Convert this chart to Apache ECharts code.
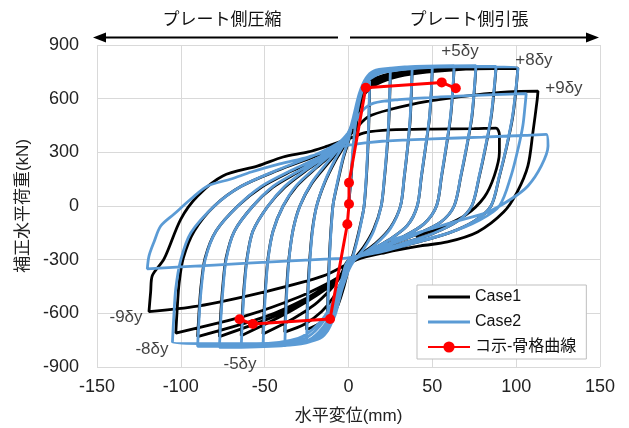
<!DOCTYPE html>
<html><head><meta charset="utf-8">
<script src="https://cdn.jsdelivr.net/npm/echarts@6/dist/echarts.min.js"></script>
<style>html,body{margin:0;padding:0;background:#fff}#c{width:629px;height:428px}</style>
</head><body><div id="c"></div>
<script>
// ---- axes ----
const xMin = -150, xMax = 150, xStep = 50;
const yMin = -900, yMax = 900, yStep = 300;

// ---- Case1 (black) hysteresis, read cycle by cycle ----
const c1_1 = [[0,0],[1.5,150],[3,330],[5.5,500],[8.5,610],[12.6,655],[12.3,520],[11.8,370],[11,210],[10,70],[9,-20],[6,-150],[3,-260],[0,-350],[-3,-460],[-7,-570],[-12.6,-645]];
const c1_2 = [[-12.3,-500],[-11.8,-360],[-11,-210],[-10,-70],[-9,20],[-6,150],[-3,270],[0,360],[3,470],[6.5,590],[10,665],[15,710],[20,728],[25,740],[24.6,610],[24,460],[23,320],[21.5,160],[19.5,0],[15,-130],[9,-230],[3,-300],[0,-350],[-3,-440],[-7,-540],[-12,-610],[-18,-660],[-25,-690]];
const c1_3 = [[-24.6,-560],[-24,-420],[-23,-280],[-21.5,-130],[-19,0],[-14,135],[-8,250],[-3,330],[0,390],[3,480],[6.5,600],[10.5,675],[16,712],[25,738],[38,755],[37.5,630],[36.8,480],[35.3,330],[33.3,165],[31,0],[25,-120],[16,-210],[6,-280],[0,-330],[-4,-420],[-9,-510],[-16,-590],[-26,-660],[-38,-705]];
const c1_4 = [[-37.5,-580],[-36.8,-440],[-35.5,-290],[-33,-130],[-29,0],[-22,125],[-13,230],[-5,320],[0,385],[3,470],[6.5,590],[10.5,670],[18,720],[32,748],[50,765],[49.4,640],[48.3,490],[46,330],[43.5,165],[41,0],[35,-110],[24,-190],[11,-260],[0,-320],[-5,-400],[-11,-470],[-20,-550],[-33,-630],[-51,-715]];
const c1_5 = [[-50.4,-590],[-49.5,-450],[-48,-290],[-45,-140],[-39,0],[-31,110],[-19,215],[-8,305],[-2,365],[2,450],[6,575],[10.5,665],[20,720],[40,755],[63,770],[62.2,640],[60.8,490],[58.3,330],[55.5,165],[52.5,0],[45,-100],[32,-175],[16,-245],[0,-320],[-5,-400],[-12,-455],[-25,-535],[-42,-625],[-64,-725]];
const c1_6 = [[-63.3,-600],[-62.3,-450],[-60.5,-290],[-57,-140],[-48,0],[-38,105],[-25,200],[-11,290],[-3,360],[2,445],[6,570],[11,660],[22,720],[50,760],[76,770],[75,640],[73.5,490],[70.5,330],[67,165],[63,0],[55,-90],[40,-160],[22,-225],[8,-275],[0,-315],[-5,-395],[-12,-450],[-25,-525],[-45,-620],[-77,-730]];
const c1_7 = [[-76.2,-600],[-75,-450],[-73,-290],[-68,-140],[-57,0],[-45,105],[-29,195],[-13,285],[-4,355],[2,440],[6,565],[11,655],[25,720],[60,762],[88,770],[86.8,640],[85,490],[81.8,330],[78,165],[73.5,0],[65,-85],[50,-155],[32,-210],[15,-260],[0,-310],[-5,-390],[-12,-440],[-25,-515],[-50,-620],[-90,-730]];
const c1_8 = [[-89.2,-600],[-88,-450],[-85.5,-290],[-79,-140],[-66,0],[-52,105],[-34,195],[-15,280],[-4,350],[2,435],[6,560],[11,650],[30,725],[70,765],[101,770],[99.8,640],[97.8,490],[94.3,330],[90,165],[85,0],[75,-85],[60,-150],[40,-205],[20,-255],[0,-305],[-5,-390],[-12,-430],[-30,-510],[-60,-610],[-103,-710]];
const c1_9 = [[-102.2,-580],[-101,-430],[-98.5,-290],[-92,-140],[-80,0],[-64,110],[-42,200],[-18,285],[-4,350],[5,440],[12,500],[25,540],[47,585],[75,620],[95,638],[113,642],[112.6,598],[110,413],[107,224],[100.6,78],[92.5,-34],[77,-145],[59,-201],[43,-223],[22,-260],[5,-300],[-15,-391],[-50,-480],[-90,-560],[-119,-590]];
const c1_10 = [[-118,-480],[-117,-389],[-110,-296],[-100,-73],[-90,56],[-75,168],[-54,224],[-39,274],[-24,302],[-12.5,335],[0,375],[10,410],[25,425],[50,430],[75,432],[88,435],[90,400],[90,300],[87,170],[81,50],[70,-50],[55,-120],[40,-170]];

// ---- Case2 (blue) hysteresis ----
const c2_1 = [[0,0],[1.5,170],[3,360],[5.5,540],[8.5,650],[12.6,700],[12.3,560],[11.8,400],[11,230],[10,80],[9,-20],[6,-160],[3,-270],[0,-360],[-4,-470],[-8,-610],[-12.6,-700]];
const c2_2 = [[-12.3,-560],[-11.8,-400],[-11,-230],[-10,-80],[-9,20],[-6,160],[-3,280],[0,370],[3,490],[6.5,620],[10,700],[14,745],[19,758],[25,765],[24.6,640],[24,480],[23,335],[21.5,170],[19.5,0],[15,-140],[9,-240],[3,-310],[0,-360],[-4,-460],[-8,-600],[-12,-690],[-17,-740],[-25,-760]];
const c2_3 = [[-24.6,-620],[-24,-460],[-23,-300],[-21.5,-140],[-19,0],[-14,140],[-8,260],[-3,340],[0,400],[3,500],[6.5,630],[10.5,715],[15,755],[25,770],[38,775],[37.5,650],[36.8,500],[35.3,335],[33.3,170],[31,0],[25,-125],[16,-215],[6,-285],[0,-335],[-4,-450],[-8,-590],[-13,-690],[-20,-750],[-38,-780]];
const c2_4 = [[-37.5,-640],[-36.8,-480],[-35.5,-300],[-33,-130],[-29,0],[-22,130],[-13,240],[-5,330],[0,400],[3,500],[6.5,630],[10.5,715],[16,755],[30,775],[50,780],[49.4,650],[48.3,500],[46,335],[43.5,170],[41,0],[35,-110],[24,-190],[11,-260],[0,-325],[-4,-440],[-8,-580],[-13,-680],[-21,-750],[-32,-775],[-51,-785]];
const c2_5 = [[-50.4,-640],[-49.5,-480],[-48,-300],[-45,-140],[-39,0],[-31,115],[-19,220],[-8,310],[-2,370],[2,460],[6,600],[10.5,710],[17,755],[35,778],[63,785],[62.2,650],[60.8,500],[58.3,335],[55.5,170],[52.5,0],[45,-100],[32,-175],[16,-245],[0,-320],[-4,-440],[-9,-580],[-14,-680],[-22,-750],[-35,-778],[-64,-790]];
const c2_6 = [[-63.3,-640],[-62.3,-480],[-60.5,-300],[-57,-140],[-48,0],[-38,110],[-25,205],[-11,295],[-3,365],[2,450],[6,590],[10.5,705],[18,755],[45,780],[76,785],[75,650],[73.5,500],[70.5,335],[67,170],[63,0],[55,-90],[40,-160],[22,-225],[8,-275],[0,-315],[-4,-430],[-9,-570],[-15,-675],[-24,-750],[-40,-780],[-77,-790]];
const c2_7 = [[-76.2,-640],[-75,-480],[-73,-300],[-68,-140],[-57,0],[-45,110],[-29,200],[-13,290],[-4,360],[2,450],[6,590],[11,700],[20,755],[55,780],[88,780],[86.8,650],[85,500],[81.8,335],[78,170],[73.5,0],[65,-85],[50,-155],[32,-210],[15,-260],[0,-310],[-4,-420],[-10,-560],[-17,-670],[-27,-745],[-45,-775],[-90,-785]];
const c2_8 = [[-89.2,-640],[-88,-480],[-85.5,-300],[-79,-140],[-66,0],[-52,110],[-34,200],[-15,285],[-4,360],[2,450],[6,590],[11,695],[22,750],[65,778],[101,770],[99.8,650],[97.8,500],[94.3,335],[90,170],[85,0],[75,-85],[60,-150],[40,-205],[20,-255],[0,-305],[-4,-410],[-10,-550],[-18,-660],[-30,-740],[-55,-770],[-105,-760]];
const c2_9 = [[-104.2,-620],[-103,-460],[-100,-300],[-94,-150],[-80,0],[-65,105],[-44,195],[-20,285],[-5,360],[3,450],[8,530],[15,575],[30,595],[55,610],[80,620],[106,628],[105.3,560],[104,450],[101.5,335],[97,170],[90,0],[78,-80],[60,-150],[40,-200],[20,-250],[0,-290],[-11,-296],[-40,-310],[-80,-330],[-120,-352]];
const c2_10 = [[-119,-280],[-116,-201],[-112,-112],[-104,-45],[-94,39],[-84,112],[-70,151],[-58,190],[-41,235],[-24,274],[-9,318],[0,340],[20,362],[50,375],[80,385],[105,395],[118,400],[119,335],[115,224],[107,112],[97,39],[83,-34],[63,-89],[43,-145],[25,-190]];

// ---- skeleton curve (red) ----
const skelX = [-65, -57, -11, -0.7, 0.3, 0.3, 10.3, 55.6, 64];
const skelY = [-633, -660, -632, -102, 11, 130, 661, 691, 658];

// ---- amplitude labels ----
const lblText = ['+5δy', '+8δy', '+9δy', '-9δy', '-8δy', '-5δy'];
const lblX = [66.5, 110.6, 128.5, -132.7, -117.2, -64.7];
const lblY = [866, 816, 660, -620, -799, -883];

const seriesNames = ['Case1', 'Case2', 'コ示-骨格曲線'];
const topLeftText = 'プレート側圧縮';
const topRightText = 'プレート側引張';
const xName = '水平変位(mm)';
const yName = '補正水平荷重(kN)';

const case1 = [].concat(c1_1, c1_2, c1_3, c1_4, c1_5, c1_6, c1_7, c1_8, c1_9, c1_10);
const case2 = [].concat(c2_1, c2_2, c2_3, c2_4, c2_5, c2_6, c2_7, c2_8, c2_9, c2_10);
const skel = skelX.map((x, i) => [x, skelY[i]]);
const lbls = lblX.map((x, i) => [x, lblY[i], lblText[i]]);

const FONT = '"Liberation Sans", Arial, "Noto Sans CJK JP", sans-serif';
const LINE_ICON = 'path://M0,0H42V3H0Z';
const chart = echarts.init(document.getElementById('c'), null, {renderer: 'canvas'});
chart.setOption({
  animation: false,
  backgroundColor: '#fff',
  textStyle: {fontFamily: FONT},
  grid: {left: 97, right: 29, top: 45, bottom: 61, outerBoundsMode: 'none', containLabel: false},
  xAxis: {
    type: 'value', min: xMin, max: xMax, interval: xStep,
    name: xName, nameLocation: 'middle', nameGap: 41,
    nameTextStyle: {fontSize: 17, color: '#222', fontFamily: FONT},
    axisLine: {show: false}, axisTick: {show: false},
    axisLabel: {fontSize: 18, color: '#222', margin: 11, fontFamily: FONT},
    splitLine: {show: true, lineStyle: {color: '#d9d9d9', width: 1}}
  },
  yAxis: {
    type: 'value', min: yMin, max: yMax, interval: yStep,
    name: yName, nameLocation: 'middle', nameGap: 64,
    nameTextStyle: {fontSize: 17, color: '#222', fontFamily: FONT},
    axisLine: {show: false}, axisTick: {show: false},
    axisLabel: {fontSize: 18, color: '#222', margin: 18, fontFamily: FONT},
    splitLine: {show: true, lineStyle: {color: '#d9d9d9', width: 1}}
  },
  legend: {
    data: [{name: seriesNames[0], icon: LINE_ICON}, {name: seriesNames[1], icon: LINE_ICON}, seriesNames[2]],
    orient: 'vertical', left: 417, top: 285,
    itemWidth: 42, itemHeight: 14, itemGap: 9, symbolKeepAspect: true,
    padding: [4, 10, 4, 10],
    backgroundColor: '#fff', borderColor: '#bfbfbf', borderWidth: 1,
    textStyle: {fontSize: 16, color: '#111', fontFamily: FONT}
  },
  series: [
    {name: seriesNames[0], type: 'line', data: case1, symbol: 'none', smooth: 0.3,
     lineStyle: {color: '#000', width: 2.8}, itemStyle: {color: '#000'}, z: 2},
    {name: seriesNames[1], type: 'line', data: case2, symbol: 'none', smooth: 0.3,
     lineStyle: {color: '#5b9bd5', width: 2.8}, itemStyle: {color: '#5b9bd5'}, z: 3},
    {name: seriesNames[2], type: 'line', data: skel, symbol: 'circle', symbolSize: 10,
     lineStyle: {color: '#ff0000', width: 3}, itemStyle: {color: '#ff0000'}, z: 4},
    {name: 'labels', type: 'scatter', data: lbls, symbolSize: 0, silent: true, z: 5,
     label: {show: true, position: 'inside', formatter: p => p.data[2], fontSize: 17, color: '#111', fontFamily: FONT}}
  ],
  graphic: [
    {type: 'line', shape: {x1: 338, y1: 37.5, x2: 104, y2: 37.5}, style: {stroke: '#000', lineWidth: 2}},
    {type: 'polygon', shape: {points: [[93, 37.5], [106, 32.5], [106, 42.5]]}, style: {fill: '#000'}},
    {type: 'line', shape: {x1: 350, y1: 37.5, x2: 588, y2: 37.5}, style: {stroke: '#000', lineWidth: 2}},
    {type: 'polygon', shape: {points: [[599, 37.5], [586, 32.5], [586, 42.5]]}, style: {fill: '#000'}},
    {type: 'text', style: {text: topLeftText, x: 222, y: 20, fontSize: 17, fill: '#111', align: 'center', verticalAlign: 'middle', fontFamily: FONT}},
    {type: 'text', style: {text: topRightText, x: 469, y: 20, fontSize: 17, fill: '#111', align: 'center', verticalAlign: 'middle', fontFamily: FONT}}
  ]
});
</script></body></html>
